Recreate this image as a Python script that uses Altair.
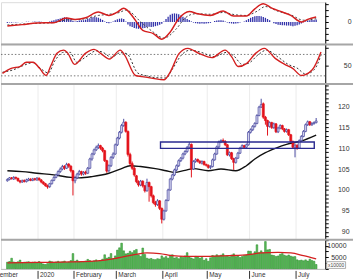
import altair as alt
import pandas as pd

# ---------------- data ----------------
opens = [102.2, 102.5, 102.9, 102.6, 103.0, 102.8, 102.2, 101.9, 102.3, 102.0,
         102.3, 102.6, 102.3, 102.7, 102.4, 102.8, 102.4, 101.9, 101.5, 101.0,
         100.8, 101.5, 102.3, 103.0, 103.6, 104.4, 105.0, 105.7, 105.2, 106.2,
         105.7, 104.6, 102.2, 102.9, 103.8, 104.4, 103.8, 104.3, 104.0, 105.2,
         107.4, 108.6, 109.6, 110.2, 110.6, 110.0, 109.4, 107.0, 104.6, 105.8,
         107.8, 108.6, 110.8, 112.4, 113.8, 115.4, 116.2, 114.0, 108.5, 106.3,
         105.2, 103.4, 102.0, 101.2, 102.1, 101.0, 99.8, 101.8, 100.8, 98.6,
         97.0, 96.5, 97.4, 95.6, 93.0, 95.0, 97.5, 100.0, 102.6, 103.6,
         104.8, 105.8, 107.0, 107.6, 108.6, 109.2, 110.2, 110.9, 105.0, 106.8,
         107.3, 106.9, 106.4, 106.8, 106.1, 105.9, 105.4, 105.6, 107.2, 108.6,
         110.3, 111.5, 111.8, 111.6, 110.8, 108.4, 108.9, 107.5, 106.6, 107.6,
         108.8, 110.0, 110.6, 110.2, 110.8, 113.8, 114.4, 115.2, 115.9, 117.8,
         119.8, 120.6, 117.4, 116.6, 115.2, 116.1, 114.9, 115.8, 113.9, 114.8,
         115.4, 114.6, 114.0, 114.4, 113.2, 111.6, 110.2, 110.7, 110.0, 111.8,
         112.8, 114.0, 115.6, 116.3, 115.6, 115.9, 116.1]
closes = [102.5, 102.9, 102.7, 103.0, 102.8, 102.2, 101.9, 102.2, 102.0, 102.4,
          102.6, 102.3, 102.6, 102.5, 102.8, 102.4, 101.9, 101.5, 101.0, 100.7,
          101.5, 102.3, 103.0, 103.6, 104.4, 105.0, 105.6, 105.2, 106.1, 105.7,
          104.6, 102.2, 102.9, 103.8, 104.4, 103.8, 104.2, 104.0, 105.2, 107.4,
          108.6, 109.6, 110.2, 110.6, 110.0, 109.4, 107.0, 104.5, 105.8, 107.8,
          108.6, 110.8, 112.4, 113.8, 115.4, 116.2, 114.0, 108.5, 106.3, 105.2,
          103.6, 102.0, 101.2, 102.1, 101.0, 99.8, 101.8, 100.8, 98.6, 97.0,
          96.5, 97.4, 95.6, 93.0, 95.0, 97.5, 100.0, 102.6, 103.6, 104.8,
          105.8, 107.0, 107.6, 108.6, 109.2, 110.2, 110.9, 105.0, 106.8, 107.2,
          106.9, 106.5, 106.8, 106.1, 105.9, 105.4, 105.6, 107.2, 108.6, 110.3,
          111.5, 111.8, 111.6, 110.8, 108.4, 108.9, 107.5, 106.6, 107.6, 108.8,
          110.0, 110.6, 110.2, 110.8, 113.8, 114.4, 115.2, 115.9, 117.8, 119.8,
          120.4, 117.4, 116.6, 115.2, 116.1, 114.9, 115.8, 113.9, 114.8, 115.4,
          114.6, 114.0, 114.4, 113.2, 111.6, 110.2, 110.7, 110.0, 111.8, 112.8,
          114.0, 115.6, 116.3, 115.6, 115.9, 116.1, 116.5]
highs = [102.8, 103.1, 103.1, 103.3, 103.2, 102.9, 102.4, 102.5, 102.5, 102.7,
         102.9, 102.8, 102.9, 102.9, 103.1, 103.0, 102.6, 102.1, 101.7, 101.3,
         101.7, 102.5, 103.3, 103.9, 104.7, 105.4, 106.0, 105.9, 106.5, 106.4,
         105.9, 104.8, 103.4, 104.1, 104.8, 104.6, 104.5, 104.6, 105.5, 107.7,
         108.9, 109.9, 110.6, 111.1, 110.8, 110.3, 109.6, 107.2, 106.1, 108.1,
         109.0, 111.1, 112.7, 114.1, 115.8, 117.0, 116.4, 114.2, 108.9, 106.8,
         105.5, 103.6, 102.3, 102.4, 102.3, 101.2, 102.7, 102.0, 101.0, 98.9,
         97.4, 97.8, 97.6, 95.8, 95.3, 97.8, 100.3, 102.9, 103.9, 105.1,
         106.1, 107.3, 107.9, 108.9, 109.5, 110.5, 111.4, 111.1, 107.1, 107.6,
         107.5, 107.1, 107.1, 107.0, 106.3, 106.1, 105.9, 107.5, 108.9, 110.6,
         111.8, 112.1, 112.3, 111.9, 111.0, 109.2, 109.1, 107.7, 107.9, 109.1,
         110.3, 110.9, 110.8, 111.1, 114.1, 114.7, 115.5, 116.2, 118.1, 120.1,
         121.8, 120.9, 117.7, 116.8, 116.4, 116.3, 116.1, 116.0, 115.1, 115.7,
         115.6, 114.8, 114.7, 114.6, 113.4, 111.8, 111.0, 110.9, 112.1, 113.1,
         114.3, 115.9, 116.6, 116.5, 116.2, 116.4, 117.2]
lows = [102.0, 102.3, 102.5, 102.4, 102.5, 102.0, 101.6, 101.7, 101.8, 101.8,
        102.1, 102.1, 102.1, 102.2, 102.2, 102.2, 101.6, 101.2, 100.8, 100.3,
        100.5, 101.3, 102.1, 102.8, 103.4, 104.1, 104.7, 104.8, 105.0, 105.3,
        104.2, 98.7, 101.6, 102.6, 103.5, 103.4, 103.5, 103.6, 103.8, 105.0,
        107.0, 108.3, 109.3, 109.8, 109.6, 109.0, 106.7, 104.1, 104.3, 105.5,
        107.4, 108.4, 110.5, 112.1, 113.5, 115.1, 113.7, 108.0, 105.9, 104.8,
        103.2, 101.6, 100.8, 100.9, 100.6, 99.4, 99.6, 97.2, 98.2, 96.6,
        96.0, 96.2, 95.2, 92.0, 92.7, 94.8, 97.3, 99.8, 102.3, 103.3,
        104.5, 105.5, 106.7, 107.3, 108.3, 108.9, 109.9, 103.0, 104.8, 106.5,
        106.6, 106.2, 106.1, 105.8, 105.6, 105.1, 105.0, 105.4, 107.0, 108.4,
        110.0, 111.2, 111.3, 110.5, 108.1, 108.0, 107.2, 104.8, 106.3, 107.4,
        108.6, 109.8, 109.9, 109.9, 110.6, 113.5, 114.1, 114.9, 115.7, 117.6,
        119.6, 117.0, 115.6, 113.0, 114.9, 114.6, 114.6, 113.6, 113.6, 114.5,
        114.3, 113.7, 113.7, 112.9, 111.3, 109.9, 107.8, 109.6, 109.8, 111.6,
        112.6, 113.8, 115.3, 115.3, 115.3, 115.6, 115.9]
volumes = [2900, 3200, 4600, 3000, 2800, 3100, 3800, 2700, 2900, 3000,
           3100, 2800, 2900, 3000, 2700, 3200, 2600, 2100, 1900, 2300,
           3400, 3100, 2800, 3000, 3300, 2900, 3100, 3400, 2800, 3000,
           3600, 6600, 3300, 3800, 3000, 3200, 2900, 3400, 4100, 3600,
           3200, 3500, 3900, 3300, 3600, 4200, 6100, 4600, 5000, 6600,
           4400, 5600, 8100, 9100, 11100, 7800, 6500, 6700, 7600, 7000,
           7900, 8400, 6100, 5400, 9000, 6200, 4600, 4300, 4500, 4100,
           4000, 4400, 4200, 5600, 4800, 5300, 4600, 5900, 6100, 4700,
           5000, 4400, 5300, 4900, 5600, 7000, 5200, 4700, 4300, 5400,
           5100, 4600, 4900, 3700, 4400, 3300, 4800, 5800, 5500, 6100,
           5600, 5900, 6500, 5400, 5700, 5200, 6000, 6500, 5300, 5600,
           4900, 5300, 5800, 6000, 7700, 7600, 6300, 7400, 10400, 7000,
           7800, 6900, 11800, 8200, 8400, 6000, 5800, 5400, 5600, 6300,
           6600, 5900, 5600, 6000, 5500, 5200, 5300, 3900, 3600, 3800,
           3500, 3900, 3400, 4200, 3600, 3300, 1900]
macd_hist = [-0.15, -0.1, -0.1, -0.05, -0.1, -0.05, 0.0, -0.05, 0.0, 0.05,
             0.05, 0.0, 0.05, 0.1, 0.05, 0.1, 0.05, 0.0, -0.05, 0.0,
             0.1, 0.2, 0.3, 0.4, 0.5, 0.6, 0.7, 0.8, 0.75, 0.6,
             0.4, 0.2, 0.1, 0.15, 0.25, 0.3, 0.3, 0.4, 0.5, 0.65,
             0.8, 0.85, 0.8, 0.7, 0.55, 0.35, 0.1, -0.15, -0.2, -0.1,
             0.1, 0.3, 0.45, 0.55, 0.6, 0.5, 0.1, -0.4, -0.7, -0.85,
             -1.0, -1.1, -1.15, -1.1, -1.05, -1.0, -0.85, -0.8, -0.85, -0.8,
             -0.7, -0.6, -0.45, -0.3, 0.1, 0.5, 0.9, 1.2, 1.4, 1.45,
             1.4, 1.3, 1.1, 0.9, 0.7, 0.5, 0.35, 0.1, -0.1, -0.2,
             -0.25, -0.3, -0.25, -0.3, -0.25, -0.2, -0.15, 0.0, 0.15, 0.25,
             0.3, 0.3, 0.25, 0.1, -0.1, -0.2, -0.25, -0.3, -0.25, -0.2,
             -0.1, 0.0, 0.1, 0.3, 0.5, 0.7, 0.85, 0.95, 1.0, 1.0,
             0.95, 0.85, 0.7, 0.5, 0.3, 0.0, -0.2, -0.35, -0.45, -0.5,
             -0.55, -0.55, -0.6, -0.6, -0.65, -0.7, -0.65, -0.55, -0.4, -0.25,
             -0.05, 0.1, 0.2, 0.3, 0.35, 0.35, 0.4]

ma_idx = [0, 7, 14, 22, 30, 34, 40, 48, 54, 58, 63, 70, 75, 79, 84, 88, 95, 101, 108, 113, 117, 122, 127, 132, 139, 146]
ma_val = [104.6, 104.4, 104.0, 103.6, 103.0, 102.9, 103.2, 104.0, 105.1, 105.8, 105.6, 105.1, 104.6, 104.2, 104.7, 105.1,
          104.6, 105.0, 104.6, 105.8, 107.4, 108.9, 110.0, 110.9, 111.7, 113.1]

macd_idx = [0, 7, 14, 22, 28, 32, 37, 43, 48, 52, 55, 60, 64, 69, 73, 77, 81, 86, 90, 96, 102, 107, 113, 117, 121, 125, 130, 134, 139, 142, 146]
macd_val = [-0.67, -0.44, -0.17, -0.11, 0.67, 0.44, 0.72, 1.67, 1.11, 1.67, 2.33, 0.56, -1.39, -1.94, -2.89, -1.67,
            0.56, 1.78, 1.39, 1.11, 1.83, 1.0, 1.0, 2.22, 3.06, 2.33, 1.67, 1.11, 0.0, 0.44, 0.83]
sig_idx = [0, 15, 22, 28, 35, 43, 48, 53, 56, 64, 69, 74, 80, 84, 89, 96, 102, 108, 113, 118, 122, 128, 134, 140, 146]
sig_val = [-0.5, -0.2, -0.1, 0.35, 0.45, 1.1, 1.3, 1.6, 2.0, -0.3, -1.7, -2.7, -1.1, 0.67, 1.39, 1.3, 1.6, 1.2,
           1.1, 1.8, 2.6, 1.8, 1.2, 0.3, 0.55]

k_idx = [0, 4, 8, 11, 14, 17, 20, 22, 25, 28, 30, 33, 38, 42, 45, 49, 54, 56, 61, 64, 69, 74, 77, 81, 85, 90, 96,
         102, 105, 108, 112, 116, 120, 125, 130, 133, 137, 142, 146]
k_val = [27, 41, 46, 58, 58, 41, 21, 46, 83, 92, 83, 52, 83, 94, 83, 67, 92, 78, 21, 18, 13, 9, 32, 83, 97, 83, 71,
         92, 74, 46, 55, 83, 97, 69, 50, 41, 21, 37, 87]
d_idx = [0, 5, 10, 14, 18, 21, 24, 28, 31, 34, 38, 43, 46, 50, 54, 57, 62, 66, 70, 75, 78, 82, 86, 91, 97, 103, 106,
         110, 113, 117, 121, 126, 131, 135, 139, 143, 146]
d_val = [30, 37, 50, 57, 38, 28, 62, 86, 86, 58, 72, 90, 86, 72, 85, 82, 28, 20, 15, 14, 40, 78, 92, 86, 74, 86, 76,
         52, 56, 78, 92, 74, 52, 42, 25, 38, 78]

vma_idx = [0, 15, 30, 45, 52, 60, 66, 72, 78, 84, 93, 105, 114, 120, 128, 134, 140, 146]
vma_val = [2600, 2800, 3000, 3700, 4700, 6150, 6900, 6600, 5700, 5400, 5400, 5700, 6150, 6900, 7150, 6900, 5700, 4300]

box_i = [72.4, 145.1]
box_p = [109.95, 111.45]

month_names = ["December", "2020", "February", "March", "April", "May", "June", "July"]
month_first = [-9.5, 15, 32, 52, 74, 95, 115, 137]

assert all(len(a) == 147 for a in [opens, highs, lows, closes, volumes, macd_hist])

# ---------------- frames ----------------
N = len(closes)
bars = pd.DataFrame({"i": list(range(N)), "open": opens, "high": highs, "low": lows,
                     "close": closes, "vol": volumes, "hist": macd_hist})
bars["zero"] = 0.0
ma_df = pd.DataFrame({"i": ma_idx, "v": ma_val})
macd_df = pd.DataFrame({"i": macd_idx, "v": macd_val})
sig_df = pd.DataFrame({"i": sig_idx, "v": sig_val})
k_df = pd.DataFrame({"i": k_idx, "v": k_val})
d_df = pd.DataFrame({"i": d_idx, "v": d_val})
vma_df = pd.DataFrame({"i": vma_idx, "v": vma_val})
box_df = pd.DataFrame({"x0": [box_i[0]], "x1": [box_i[1]], "y0": [box_p[0]], "y1": [box_p[1]]})
months_df = pd.DataFrame({"name": month_names, "first": month_first})
months_df["tick"] = months_df["first"] - 0.5
one = pd.DataFrame({"a": [0]})
lvl_df = pd.DataFrame({"lvl": [20, 80]})

W = 327
FONT = "Liberation Sans"
XS = alt.Scale(domain=[-0.68, 147.95], nice=False, zero=False)


def X(field="i"):
    return alt.X(f"{field}:Q", scale=XS, axis=None)


def yaxis(values, expr, pad):
    return alt.Axis(orient="right", values=values, labelExpr=expr, tickSize=3, tickColor="#000",
                    domainColor="#000", labelPadding=pad, labelAlign="right", labelBaseline="middle",
                    labelFont=FONT, labelFontSize=7, labelColor="#333", labelOverlap=False,
                    labelFlush=False, grid=False, title=None)


def sep():
    return alt.Chart(one).mark_rule(color="#a6a6a6", strokeWidth=2).encode(
        x=alt.value(0), x2=alt.value(355), y=alt.value(0.6))


# ---------------- MACD panel ----------------
MS = alt.Scale(domain=[-22 / 6, 20 / 6], nice=False, zero=False)
MA_AX = yaxis([-3, -2, -1, 0, 1, 2, 3], "datum.value == 0 ? '0' : ''", 23)
hist = alt.Chart(bars).mark_bar(size=1.3, color="#3232aa").encode(
    x=X(), y=alt.Y("hist:Q", scale=MS, axis=MA_AX), y2="zero")
sig = alt.Chart(sig_df).mark_line(color="#444", strokeDash=[2, 2], strokeWidth=1, interpolate="monotone").encode(
    x=X(), y=alt.Y("v:Q", scale=MS, axis=MA_AX))
macd = alt.Chart(macd_df).mark_line(color="#d41f1f", strokeWidth=1.5, interpolate="monotone").encode(
    x=X(), y=alt.Y("v:Q", scale=MS, axis=MA_AX))
macd_panel = alt.layer(hist, sig, macd).properties(width=W, height=42)

# ---------------- Stochastic panel ----------------
SS = alt.Scale(domain=[50 - 18.5 / 0.36, 50 + 21.5 / 0.36], nice=False, zero=False)
ST_AX = yaxis([0, 50, 100], "datum.value == 50 ? '50' : ''", 23)
guides = alt.Chart(lvl_df).mark_rule(color="#555", strokeDash=[1.5, 2], strokeWidth=0.8).encode(
    y=alt.Y("lvl:Q", scale=SS, axis=ST_AX))
dline = alt.Chart(d_df).mark_line(color="#333", strokeDash=[2, 2], strokeWidth=1, interpolate="monotone").encode(
    x=X(), y=alt.Y("v:Q", scale=SS, axis=ST_AX))
kline = alt.Chart(k_df).mark_line(color="#d41f1f", strokeWidth=1.4, interpolate="monotone").encode(
    x=X(), y=alt.Y("v:Q", scale=SS, axis=ST_AX))
stoch_panel = alt.layer(guides, dline, kline, sep()).properties(width=W, height=40)

# ---------------- Price panel ----------------
PS = alt.Scale(domain=[120 - 134 / 4.22, 120 + 23 / 4.22], nice=False, zero=False)
P_AX = yaxis(list(range(89, 126)),
             "(datum.value % 5 == 0 && datum.value <= 120) ? datum.label : ''", 21)
up = "datum.close >= datum.open"
grid = alt.Chart(months_df).mark_rule(color="#ececec", strokeWidth=1).encode(x=X("tick"))
ma_line = alt.Chart(ma_df).mark_line(color="#111", strokeWidth=1.4, interpolate="monotone").encode(
    x=X(), y=alt.Y("v:Q", scale=PS, axis=P_AX))
wicks = alt.Chart(bars).mark_rule(strokeWidth=1).encode(
    x=X(), y=alt.Y("low:Q", scale=PS, axis=P_AX), y2="high",
    color=alt.condition(up, alt.value("#4a4aa0"), alt.value("#e3131b")))
bodies = alt.Chart(bars).mark_bar(size=2, strokeWidth=0.7).encode(
    x=X(), y=alt.Y("open:Q", scale=PS, axis=P_AX), y2="close",
    fill=alt.condition(up, alt.value("#d6d6f0"), alt.value("#e3131b")),
    stroke=alt.condition(up, alt.value("#4a4aa0"), alt.value("#e3131b")))
box = alt.Chart(box_df).mark_rect(fillOpacity=0, stroke="#2a2a90", strokeWidth=1.4).encode(
    x=X("x0"), x2="x1", y=alt.Y("y0:Q", scale=PS, axis=P_AX), y2="y1")
price_panel = alt.layer(grid, ma_line, wicks, bodies, box, sep()).properties(width=W, height=157)

# ---------------- Volume panel ----------------
VS = alt.Scale(domain=[0, 30 / 11.7 * 5000], nice=False, zero=False)
V_AX = yaxis([0, 2500, 5000, 7500, 10000, 12500],
             "datum.value == 5000 || datum.value == 10000 ? '' + datum.value : ''", 18)
vbars = alt.Chart(bars).mark_bar(size=1.7, fill="#5dbb5d", stroke="#1f861f", strokeWidth=0.5).encode(
    x=X(), y=alt.Y("vol:Q", scale=VS, axis=V_AX), y2="zero")
vma = alt.Chart(vma_df).mark_line(color="#d42020", strokeWidth=1.3, interpolate="monotone").encode(
    x=X(), y=alt.Y("v:Q", scale=VS, axis=V_AX))
base = alt.Chart(one).mark_rule(color="#bbbbbb", strokeWidth=1).encode(
    x=alt.value(0), x2=alt.value(W), y=alt.value(30.5))
mticks = alt.Chart(months_df).mark_rule(color="#333", strokeWidth=1).encode(
    x=X("tick"), y=alt.value(32), y2=alt.value(40))
mlabels = alt.Chart(months_df).mark_text(align="left", baseline="middle", dx=2, fontSize=6.5,
                                         font=FONT, color="#333").encode(
    x=X("tick"), y=alt.value(36.5), text="name:N")
ubox = alt.Chart(one).mark_rect(fill="#ffffff", stroke="#999999", strokeWidth=0.8).encode(
    x=alt.value(328.5), x2=alt.value(347.5), y=alt.value(22.7), y2=alt.value(29.5))
utext = alt.Chart(one).mark_text(fontSize=5, font=FONT, color="#444", baseline="middle", align="center").encode(
    x=alt.value(338), y=alt.value(26.2), text=alt.value("x10000"))
vol_panel = alt.layer(vbars, vma, base, mticks, mlabels, ubox, utext, sep()).properties(width=W, height=30)

chart = alt.vconcat(macd_panel, stoch_panel, price_panel, vol_panel, spacing=0, bounds="flush").properties(
    padding={"left": -15, "top": -2, "right": 0, "bottom": 0}
).configure_view(strokeWidth=0).configure(background="#ffffff")

chart.save("out.html", embed_options={"renderer": "svg", "actions": False})
